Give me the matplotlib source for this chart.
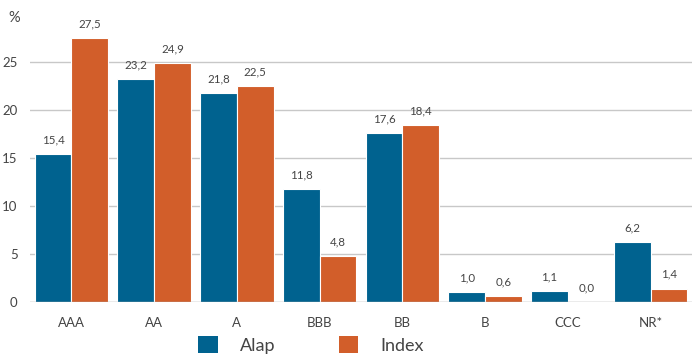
import matplotlib
matplotlib.use("Agg")
import matplotlib.pyplot as plt
import numpy as np
from matplotlib.patches import Patch

categories = ["AAA", "AA", "A", "BBB", "BB", "B", "CCC", "NR*"]
alap = [15.4, 23.2, 21.8, 11.8, 17.6, 1.0, 1.1, 6.2]
index = [27.5, 24.9, 22.5, 4.8, 18.4, 0.6, 0.0, 1.4]
series_names = ["Alap", "Index"]
yticks = [0, 5, 10, 15, 20, 25]

blue = "#00628F"
orange = "#D25E2A"
txt = "#444444"

plt.rcParams["font.family"] = ["Lato", "DejaVu Sans"]

fig = plt.figure(figsize=(6.97, 3.58), dpi=100)
ax = fig.add_axes([30/697, 1-302/358, 662/697, 288/358])

x = np.arange(len(categories))
w = 0.445
b1 = ax.bar(x - w/2, alap, w, color=blue, edgecolor="white", linewidth=0.8, zorder=3)
b2 = ax.bar(x + w/2, index, w, color=orange, edgecolor="white", linewidth=0.8, zorder=3)

def fmt(v):
    return f"{v:.1f}".replace(".", ",")

for bars, vals in ((b1, alap), (b2, index)):
    for r, v in zip(bars, vals):
        ax.text(r.get_x() + r.get_width()/2, v + 0.9, fmt(v), ha="center", va="bottom",
                fontsize=8.3, color=txt)

ax.set_xlim(-0.5, 7.5)
ax.set_ylim(0, 30)
ax.set_yticks(yticks)
ax.set_yticklabels([str(t) for t in yticks], fontsize=9.5, color=txt)
ax.set_xticks(x)
ax.set_xticklabels(categories, fontsize=9.5, color=txt)
ax.tick_params(axis="both", length=0)
ax.tick_params(axis="x", pad=11)
ax.tick_params(axis="y", pad=9)
for t in yticks[1:]:
    ax.axhline(t, color="#c8c8c8", linewidth=1, zorder=1)
ax.axhline(0, color="#999999", linewidth=1, zorder=4)
for s in ax.spines.values():
    s.set_visible(False)

fig.text(14/697, 1-18/358, "%", fontsize=10.5, color=txt, ha="center", va="center")

handles = [Patch(facecolor=blue, label=series_names[0]), Patch(facecolor=orange, label=series_names[1])]
fig.legend(handles=handles, loc="center", bbox_to_anchor=(311/697, 1-345/358), ncol=2,
           frameon=False, fontsize=13, handlelength=1.1, handleheight=1.1,
           handletextpad=1.2, columnspacing=3.5, labelcolor=txt)

fig.savefig("out.png", dpi=100)
